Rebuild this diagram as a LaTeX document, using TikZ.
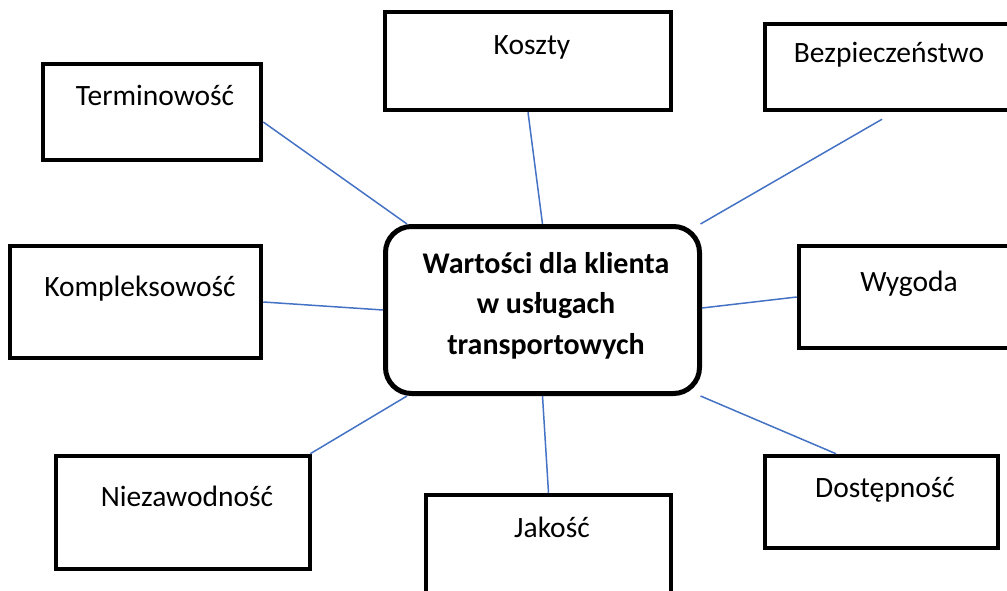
\documentclass[tikz,border=0pt]{standalone}
\usepackage{fontspec}
\setmainfont{Carlito}
\definecolor{linkblue}{HTML}{4472C4}
\begin{document}
\begin{tikzpicture}[x=1pt,y=-1pt,
  box/.style={draw=black, line width=4.5pt, fill=white, inner sep=0pt, rectangle},
  centerbox/.style={draw=black, line width=5pt, fill=white, inner sep=0pt, rectangle, rounded corners=26pt},
  lbl/.style={font=\fontsize{29.5}{41}\selectfont, inner sep=0pt, anchor=base},
  ctext/.style={font=\fontsize{30}{40.5}\selectfont\bfseries, align=center, inner sep=0pt, anchor=base},
  link/.style={draw=linkblue, line width=1.5pt}]
\useasboundingbox (0,0) rectangle (1007,591);
\clip (0,0) rectangle (1007,591);
% boxes
\node[box, minimum width=218pt, minimum height=96pt] (term) at (152,112) {};
\node[box, minimum width=286pt, minimum height=98pt] (kosz) at (528,61) {};
\node[box, minimum width=265pt, minimum height=86pt] (bez) at (897.5,67) {};
\node[box, minimum width=251pt, minimum height=112pt] (komp) at (135.5,302) {};
\node[box, minimum width=240pt, minimum height=102pt] (wyg) at (919,297) {};
\node[box, minimum width=254pt, minimum height=113pt] (niez) at (183,512.5) {};
\node[box, minimum width=245pt, minimum height=120pt] (jak) at (548.5,555) {};
\node[box, minimum width=233pt, minimum height=92pt] (dost) at (881.5,502) {};
\node[centerbox, minimum width=314pt, minimum height=167pt] (c) at (542.5,310) {};
% labels
\node[lbl] (tTerm) at (155,106) {Terminowość};
\node[lbl] (tKosz) at (532,55) {Koszty};
\node[lbl] (tBez) at (889,63) {Bezpieczeństwo};
\node[lbl] (tKomp) at (140,296) {Kompleksowość};
\node[lbl] (tWyg) at (909,291) {Wygoda};
\node[lbl] (tNiez) at (187,506) {Niezawodność};
\node[lbl] (tJak) at (552,537) {Jakość};
\node[lbl] (tDost) at (885,497) {Dostępność};
\node[ctext] (tC) at (546,354) {Wartości dla klienta\\w usługach\\transportowych};
% connectors
\draw[link] ([yshift=-10pt]term.east) -- ([xshift=24pt]c.north west);
\draw[link] (kosz.south) -- (c.north);
\draw[link] ([xshift=-15.5pt,yshift=-7pt]bez.south) -- ([xshift=-1.5pt]c.north east);
\draw[link] (komp.east) -- (c.west);
\draw[link] (wyg.west) -- ([yshift=2pt]c.east);
\draw[link] ([xshift=-2pt]niez.north east) -- ([xshift=24pt]c.south west);
\draw[link] (jak.north) -- (c.south);
\draw[link] ([xshift=-45.5pt]dost.north) -- ([xshift=-1.5pt]c.south east);
\end{tikzpicture}
\end{document}
